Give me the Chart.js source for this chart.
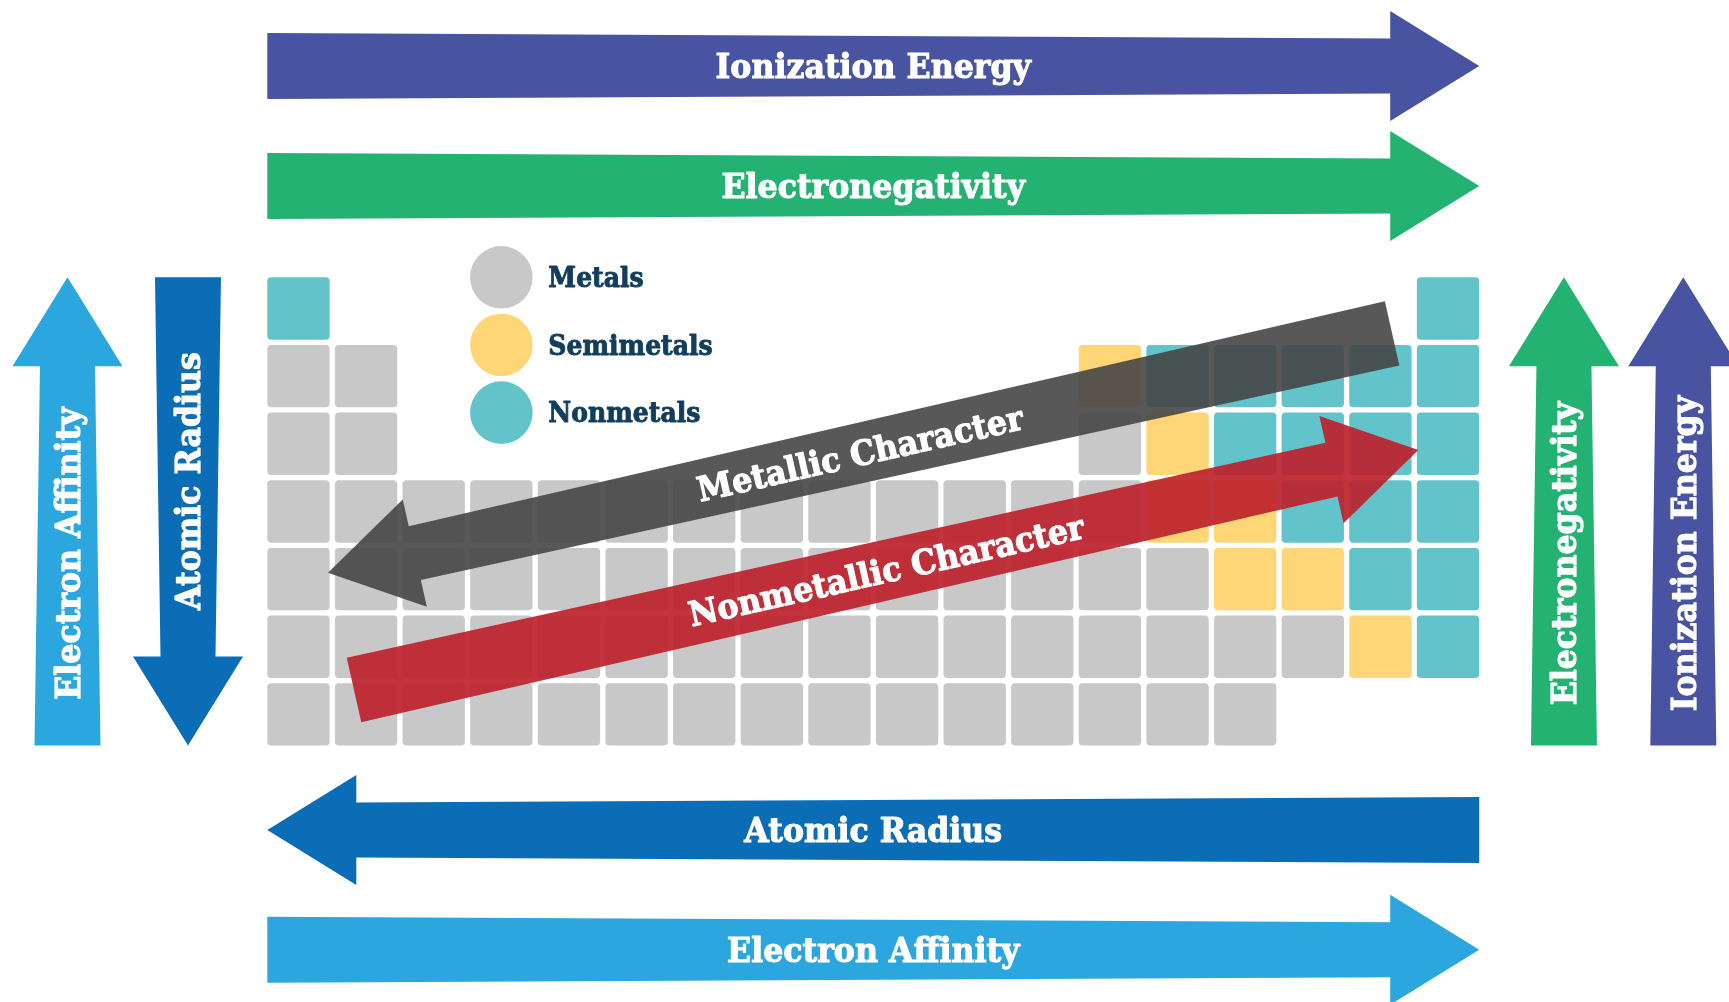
<!DOCTYPE html>
<html>
<head>
<meta charset="utf-8">
<script src="https://cdn.jsdelivr.net/npm/chart.js@4/dist/chart.umd.min.js"></script>
<style>
html, body { margin: 0; padding: 0; background: #fff; overflow: hidden; }
#wrap { width: 1729px; height: 1002px; position: relative; }
</style>
</head>
<body>
<div id="wrap"><canvas id="chart"></canvas></div>
<script>
// one string per period, one char per group: M metal, S semimetal, N nonmetal, . empty
var periods = [
    "N................N",
    "MM..........SNNNNN",
    "MM..........MSNNNN",
    "MMMMMMMMMMMMMSSNNN",
    "MMMMMMMMMMMMMMSSNN",
    "MMMMMMMMMMMMMMMMSN",
    "MMMMMMMMMMMMMMM..."
]
var classCodes = ["M", "S", "N"]
var classNames = ["Metals", "Semimetals", "Nonmetals"]
var classColors = ["#c8c8c8", "#fed677", "#62c3cb"]

// trends along a period (above / below the table), row = where the arrow runs
var periodTrends = ["Ionization Energy", "Electronegativity", "Atomic Radius", "Electron Affinity"]
var periodTrendRows = [-2.585, -0.811, 8.709, 10.478]
var periodTrendDirs = [1, 1, -1, 1]      // 1 = points right, -1 = points left

// trends down a group (left / right of the table), col = where the arrow runs
var groupTrends = ["Electron Affinity", "Atomic Radius", "Electronegativity", "Ionization Energy"]
var groupTrendCols = [-2.416, -0.634, 19.714, 21.479]
var groupTrendDirs = [-1, 1, -1, -1]     // -1 = points up, 1 = points down

// diagonal trends, [group, period] of tail and tip
var diagTrends = ["Metallic Character", "Nonmetallic Character"]
var diagTails = [[17.173, 1.368], [1.821, 6.639]]
var diagTips = [[1.436, 4.905], [17.56, 3.092]]

var trendColors = {
    "Ionization Energy": "#4853a1",
    "Electronegativity": "#23b272",
    "Atomic Radius": "#0b6db5",
    "Electron Affinity": "#2ca6de",
    "Metallic Character": "rgba(70,70,70,0.9)",
    "Nonmetallic Character": "rgba(189,34,45,0.92)"
}

var CELL_HALF = 0.461   // half a cell, in group/period units (rest is the gap)
var LEGEND_COL = 4
var TAIL_HALF = 33, NECK_HALF = 27.5, HEAD_HALF = 55, HEAD_LEN = 89
var LABEL_FONT = "'DejaVu Serif', 'Liberation Serif', serif"
var LEGEND_TEXT = "#123e5c"

function cellsFor(code){
    let out = []
    periods.forEach((row, r) => {
        row.split("").forEach((c, g) => {
            if(c == code)
                out.push({x: g + 1, y: [r + 1 - CELL_HALF, r + 1 + CELL_HALF]})
        })
    })
    return out
}

function buildTrendArrows(){
    let list = []
    let left = 1 - CELL_HALF, right = periods[0].length + CELL_HALF
    let top = 1 - CELL_HALF, bottom = periods.length + CELL_HALF
    periodTrends.forEach((name, i) => {
        let a = periodTrendDirs[i] > 0 ? left : right
        let b = periodTrendDirs[i] > 0 ? right : left
        list.push({name: name, from: [a, periodTrendRows[i]], to: [b, periodTrendRows[i]], labelAt: 0.5})
    })
    groupTrends.forEach((name, i) => {
        let down = groupTrendDirs[i] > 0
        list.push({name: name, from: [groupTrendCols[i], down ? top : bottom],
                   to: [groupTrendCols[i], down ? bottom : top], labelAt: down ? 0.435 : 0.41})
    })
    diagTrends.forEach((name, i) => {
        list.push({name: name, from: diagTails[i], to: diagTips[i], labelAt: 0.5})
    })
    return list
}

function drawArrow(ctx, p0, p1, color){
    let dx = p1.x - p0.x, dy = p1.y - p0.y
    let len = Math.hypot(dx, dy)
    let ux = dx / len, uy = dy / len, nx = -uy, ny = ux
    let kx = p1.x - ux * HEAD_LEN, ky = p1.y - uy * HEAD_LEN
    ctx.beginPath()
    ctx.moveTo(p0.x + nx * TAIL_HALF, p0.y + ny * TAIL_HALF)
    ctx.lineTo(kx + nx * NECK_HALF, ky + ny * NECK_HALF)
    ctx.lineTo(kx + nx * HEAD_HALF, ky + ny * HEAD_HALF)
    ctx.lineTo(p1.x, p1.y)
    ctx.lineTo(kx - nx * HEAD_HALF, ky - ny * HEAD_HALF)
    ctx.lineTo(kx - nx * NECK_HALF, ky - ny * NECK_HALF)
    ctx.lineTo(p0.x - nx * TAIL_HALF, p0.y - ny * TAIL_HALF)
    ctx.closePath()
    ctx.fillStyle = color
    ctx.fill()
}

// slab serif, a bit condensed and thickened to get closer to the heavy original face
function drawText(ctx, text, x, y, angle, size, squeeze, color, align){
    ctx.save()
    ctx.translate(x, y)
    ctx.rotate(angle)
    ctx.scale(squeeze, 1)
    ctx.font = "bold " + size + "px " + LABEL_FONT
    ctx.fillStyle = color
    ctx.strokeStyle = color
    ctx.lineWidth = size * 0.035
    ctx.lineJoin = "round"
    ctx.textAlign = align
    ctx.textBaseline = "alphabetic"
    ctx.fillText(text, 0, size * 0.729 / 2)
    ctx.strokeText(text, 0, size * 0.729 / 2)
    ctx.restore()
}

const trendPlugin = {
    id: "trends",
    afterDatasetsDraw(chart){
        let ctx = chart.ctx
        let xs = chart.scales.x, ys = chart.scales.y
        let px = (p) => ({x: xs.getPixelForValue(p[0]), y: ys.getPixelForValue(p[1])})

        // legend labels next to the circles
        let legendMeta = chart.getDatasetMeta(3)
        legendMeta.data.forEach((pt, i) => {
            drawText(ctx, classNames[i], pt.x + 47, pt.y, 0, 27, 0.93, LEGEND_TEXT, "left")
        })

        buildTrendArrows().forEach((a) => {
            let p0 = px(a.from), p1 = px(a.to)
            drawArrow(ctx, p0, p1, trendColors[a.name])
            let ang = Math.atan2(p1.y - p0.y, p1.x - p0.x)
            let c = Math.cos(ang)
            if(c < -1e-6 || (Math.abs(c) < 1e-6 && Math.sin(ang) > 0))
                ang += Math.PI
            let lx = p0.x + (p1.x - p0.x) * a.labelAt
            let ly = p0.y + (p1.y - p0.y) * a.labelAt
            drawText(ctx, a.name, lx, ly, ang, 34, 0.93, "#ffffff", "center")
        })
    }
}

var datasets = classCodes.map((code, i) => ({
    type: "bar",
    label: classNames[i],
    data: cellsFor(code),
    backgroundColor: classColors[i],
    borderRadius: 4,
    borderSkipped: false,
    grouped: false,
    categoryPercentage: 1,
    barPercentage: 2 * CELL_HALF
}))
datasets.push({
    type: "scatter",
    label: "legend",
    data: classNames.map((n, i) => ({x: LEGEND_COL, y: i + 1 - CELL_HALF})),
    backgroundColor: classColors,
    pointRadius: 31.3,
    pointBorderWidth: 0,
    borderWidth: 0
})

new Chart(document.getElementById("chart").getContext("2d"), {
    type: "bar",
    data: {datasets: datasets},
    options: {
        responsive: true,
        maintainAspectRatio: false,
        animation: false,
        events: [],
        devicePixelRatio: 1,
        layout: {padding: 0, autoPadding: false},
        plugins: {legend: {display: false}, tooltip: {enabled: false}},
        scales: {
            x: {type: "linear", min: -3.414, max: 22.155, offset: false, display: false,
                ticks: {stepSize: 1, includeBounds: false}},
            y: {type: "linear", min: -3.560, max: 11.251, reverse: true, display: false,
                ticks: {stepSize: 1, includeBounds: false}}
        }
    },
    plugins: [trendPlugin]
})
</script>
</body>
</html>
